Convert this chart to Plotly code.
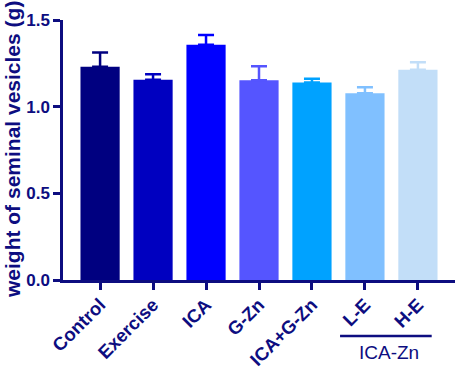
import plotly.graph_objects as go

categories = ["Control", "Exercise", "ICA", "G-Zn", "ICA+G-Zn", "L-E", "H-E"]
means = [1.23, 1.155, 1.357, 1.152, 1.140, 1.077, 1.213]
errors = [0.083, 0.032, 0.056, 0.081, 0.021, 0.035, 0.043]
colors = ["#000080", "#0000C0", "#0000FF", "#5555FF", "#00A2FF", "#80C0FF", "#C2DEF8"]
yticks = [0.0, 0.5, 1.0, 1.5]
ytick_labels = ["0.0", "0.5", "1.0", "1.5"]
group_label = "ICA-Zn"
y_title = "weight of seminal vesicles (g)"

navy = "#0d0d80"
font_family = "Arial, Liberation Sans, sans-serif"

fig = go.Figure()
for c, m, e, col in zip(categories, means, errors, colors):
    fig.add_trace(go.Bar(
        x=[c], y=[m], width=0.74, marker=dict(color=col, line=dict(width=0)),
        error_y=dict(type="data", symmetric=False, array=[e], arrayminus=[0],
                     color=col, thickness=2.5, width=8),
        showlegend=False,
    ))

fig.add_shape(type="line", xref="x", yref="paper", x0=4.53, x1=6.26,
              y0=-0.215, y1=-0.215, line=dict(color=navy, width=2.5))
fig.add_annotation(x=5.45, y=-0.28, xref="x", yref="paper", text=group_label,
                   showarrow=False, yanchor="middle",
                   font=dict(family=font_family, size=19, color=navy))
fig.add_annotation(x=-0.13, y=0.5, xref="paper", yref="paper", text=y_title,
                   showarrow=False, textangle=-90, xanchor="center", yanchor="middle",
                   font=dict(family=font_family, size=21, color=navy, weight="bold"))

fig.update_layout(
    width=457, height=369,
    margin=dict(l=63, r=2, t=20, b=89),
    plot_bgcolor="white", paper_bgcolor="white",
    barmode="overlay",
    font=dict(family=font_family, color=navy),
    xaxis=dict(
        type="category", range=[-0.7, 6.7], showline=True, linecolor=navy, linewidth=2.5,
        ticks="outside", ticklen=7, tickwidth=2.5, tickcolor=navy,
        tickangle=-45, showgrid=False, zeroline=False, automargin=False,
        ticklabelstandoff=-3,
        tickfont=dict(family=font_family, size=18.5, color=navy, weight="bold"),
    ),
    yaxis=dict(
        range=[0, 1.5], showline=True, linecolor=navy, linewidth=2.5,
        tickvals=yticks, ticktext=ytick_labels,
        ticks="outside", ticklen=7, tickwidth=2.5, tickcolor=navy,
        showgrid=False, zeroline=False, automargin=False,
        tickfont=dict(family=font_family, size=17, color=navy, weight="bold"),
    ),
)

fig.write_html("out.html", config={"displayModeBar": False},
               post_script="document.body.style.margin='0';")
